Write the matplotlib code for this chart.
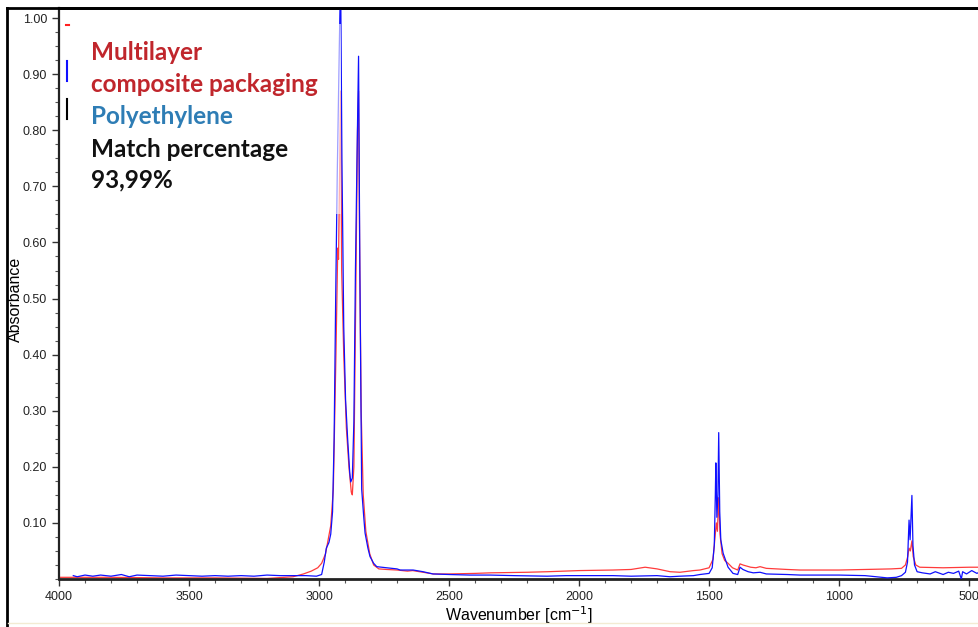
import numpy as np
import matplotlib
matplotlib.use("Agg")
import matplotlib.pyplot as plt
from matplotlib.lines import Line2D
from matplotlib.patches import Rectangle
from matplotlib.ticker import MultipleLocator, FormatStrFormatter

# spectra (wavenumber cm-1, absorbance)
red_wn = [4000, 3800, 3600, 3400, 3200, 3100, 3060, 3030, 3005, 2990, 2975, 2965,
          2955, 2945, 2935, 2928, 2925, 2917, 2913, 2905, 2895, 2885, 2876, 2872, 2866,
          2860, 2852, 2848, 2844, 2838, 2830, 2820, 2805, 2790, 2770, 2740, 2700,
          2660, 2640, 2600, 2560, 2500, 2400, 2340, 2200, 2120, 2000, 1870, 1800,
          1746, 1700, 1650, 1612, 1560, 1535, 1500, 1485, 1478, 1472, 1468, 1463,
          1458, 1450, 1440, 1427, 1410, 1390, 1381, 1370, 1340, 1320, 1304, 1280,
          1200, 1150, 1050, 1000, 900, 800, 760, 745, 736, 731, 726, 720, 715, 705,
          690, 600, 500, 462]
red_abs = [0.003, 0.003, 0.002, 0.002, 0.001, 0.004, 0.009, 0.014, 0.020, 0.028, 0.045, 0.070,
           0.095, 0.160, 0.400, 0.590, 0.570, 0.870, 0.550, 0.400, 0.270, 0.200, 0.155, 0.150, 0.200,
           0.450, 0.800, 0.870, 0.600, 0.300, 0.150, 0.085, 0.045, 0.025, 0.018, 0.017, 0.016,
           0.014, 0.015, 0.012, 0.009, 0.009, 0.010, 0.011, 0.012, 0.013, 0.015, 0.016, 0.017,
           0.021, 0.018, 0.013, 0.012, 0.015, 0.016, 0.020, 0.035, 0.070, 0.100, 0.085, 0.145,
           0.080, 0.045, 0.033, 0.028, 0.020, 0.016, 0.027, 0.025, 0.021, 0.020, 0.022, 0.019,
           0.017, 0.016, 0.016, 0.016, 0.017, 0.018, 0.019, 0.025, 0.040, 0.055, 0.050, 0.068, 0.040, 0.025,
           0.021, 0.020, 0.021, 0.021]

blue_wn = [3945, 3930, 3900, 3870, 3840, 3800, 3760, 3730, 3700, 3650, 3600, 3550,
           3500, 3450, 3400, 3350, 3300, 3250, 3200, 3150, 3100, 3050, 3010, 2990,
           2980, 2972, 2962, 2955, 2948, 2942, 2936, 2930, 2922, 2917, 2912, 2905,
           2898, 2890, 2882, 2878, 2872, 2866, 2860, 2854, 2848, 2843, 2836, 2828,
           2823, 2812, 2804, 2790, 2778, 2740, 2700, 2688, 2660, 2638, 2600, 2562,
           2500, 2420, 2342, 2250, 2123, 2050, 1950, 1869, 1800, 1700, 1650, 1612,
           1560, 1535, 1500, 1488, 1480, 1476, 1474, 1470, 1466, 1463, 1459, 1455,
           1446, 1427, 1408, 1390, 1381, 1370, 1350, 1330, 1304, 1280, 1200, 1150,
           1100, 1000, 900, 815, 780, 760, 745, 737, 731, 727, 720, 716, 710, 700,
           680, 650, 630, 600, 580, 560, 540, 530, 525, 510, 490, 470, 462]
blue_abs = [0.006, 0.004, 0.007, 0.005, 0.007, 0.005, 0.008, 0.004, 0.007, 0.006, 0.005, 0.007,
            0.006, 0.005, 0.006, 0.005, 0.006, 0.005, 0.007, 0.006, 0.006, 0.006, 0.005, 0.008,
            0.030, 0.055, 0.065, 0.080, 0.120, 0.250, 0.500, 0.720, 0.950, 1.080, 0.750, 0.450,
            0.320, 0.250, 0.190, 0.173, 0.180, 0.280, 0.550, 0.750, 0.932, 0.550, 0.160, 0.110,
            0.082, 0.055, 0.040, 0.028, 0.022, 0.020, 0.018, 0.016, 0.016, 0.016, 0.013, 0.009,
            0.008, 0.007, 0.007, 0.006, 0.005, 0.006, 0.006, 0.006, 0.005, 0.006, 0.004, 0.005,
            0.006, 0.008, 0.010, 0.020, 0.060, 0.150, 0.207, 0.110, 0.150, 0.261, 0.120, 0.070,
            0.046, 0.021, 0.010, 0.008, 0.021, 0.017, 0.013, 0.011, 0.012, 0.009, 0.008, 0.007,
            0.007, 0.007, 0.006, 0.002, 0.003, 0.006, 0.012, 0.030, 0.105, 0.070, 0.149, 0.060, 0.025, 0.013,
            0.011, 0.009, 0.013, 0.008, 0.012, 0.010, 0.014, 0.000, 0.013, 0.009, 0.015, 0.010, 0.012]

x_ticks = [4000, 3500, 3000, 2500, 2000, 1500, 1000, 500]
y_ticks = [0.1, 0.2, 0.3, 0.4, 0.5, 0.6, 0.7, 0.8, 0.9, 1.0]

label_lines = ["Multilayer", "composite packaging", "Polyethylene", "Match percentage", "93,99%"]
label_colors = ["#C0262C", "#C0262C", "#2E7DB5", "#111111", "#111111"]

tick_font = ["Liberation Sans Narrow", "Liberation Sans", "DejaVu Sans"]

fig = plt.figure(figsize=(9.79, 6.27), dpi=100)
ax = fig.add_axes([59/979, 48/627, 920/979, 571/627])

ax.plot(red_wn, red_abs, color="#FF3B3B", lw=0.9, zorder=2)
ax.plot(blue_wn, blue_abs, color="#1010FF", lw=0.9, zorder=3)

ax.set_xlim(4000, 462)
ax.set_ylim(0, 1.018)
ax.set_xticks(x_ticks)
ax.set_yticks(y_ticks)
ax.xaxis.set_minor_locator(MultipleLocator(100))
ax.yaxis.set_minor_locator(MultipleLocator(0.025))
ax.yaxis.set_major_formatter(FormatStrFormatter("%.2f"))
ax.tick_params(axis="both", which="major", length=5, width=1, color="#333333",
               labelsize=9, labelcolor="#222222")
ax.tick_params(axis="both", which="minor", length=3, width=0.8, color="#555555")
for lab in ax.get_xticklabels() + ax.get_yticklabels():
    lab.set_family(tick_font)

ax.spines["right"].set_visible(False)
ax.spines["left"].set_linewidth(1.6)
ax.spines["left"].set_color("#222222")
ax.spines["bottom"].set_linewidth(2)
ax.spines["bottom"].set_color("#222222")
ax.spines["top"].set_linewidth(2)
ax.spines["top"].set_color("black")

ax.set_xlabel(r"Wavenumber [cm$^{-1}$]", family=tick_font, fontsize=11.5, labelpad=1)
ax.set_ylabel("Absorbance", family=tick_font, fontsize=11.5)
ax.yaxis.set_label_coords(-0.039, 0.49)

# semi-transparent white text box
ax.add_patch(Rectangle((0.0098, 0.64), 0.297, 0.332, transform=ax.transAxes,
                       facecolor="white", edgecolor="none", alpha=0.6, zorder=4))

ys = [0.909, 0.853, 0.797, 0.739, 0.685]
for txt, col, yy in zip(label_lines, label_colors, ys):
    ax.text(0.0348, yy, txt, transform=ax.transAxes, color=col, fontsize=17.5,
            fontweight="bold", family=["Lato", "DejaVu Sans"], va="baseline", zorder=5)

# leftover legend marks
ax.add_line(Line2D([0.0075, 0.0105], [0.971, 0.971], transform=ax.transAxes, color="#FF2020", lw=1.5, zorder=5))
ax.add_line(Line2D([0.0087, 0.0087], [0.872, 0.907], transform=ax.transAxes, color="#1010FF", lw=1.5, zorder=5))
ax.add_line(Line2D([0.0087, 0.0087], [0.806, 0.841], transform=ax.transAxes, color="black", lw=1.5, zorder=5))

# outer frame of the screenshot
fig.add_artist(Line2D([7/979, 7/979], [0, 1 - 8/627], transform=fig.transFigure, color="black", lw=2))
fig.add_artist(Line2D([7/979, 1], [1 - 8/627, 1 - 8/627], transform=fig.transFigure, color="black", lw=2))
fig.add_artist(Line2D([8/979, 1], [4/627, 4/627], transform=fig.transFigure, color="#F3EBD3", lw=1.0))

fig.savefig("out.png", dpi=100)
